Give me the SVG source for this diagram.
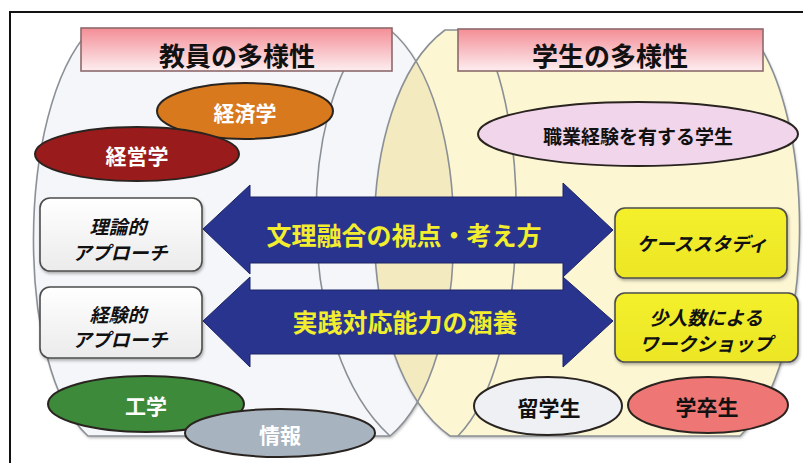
<svg xmlns="http://www.w3.org/2000/svg" width="803" height="463" viewBox="0 0 803 463">
<defs>
<style>
text{font-family:"Noto Sans CJK JP","Noto Sans",sans-serif;font-weight:bold;text-anchor:middle;dominant-baseline:central}
.arc{fill:none;stroke:#8b9096;stroke-width:1.6}
.ban{stroke:#8d6a6c;stroke-width:1.6}
.ban-t{font-size:26px;fill:#111}
.ell{stroke:#2a2420;stroke-width:2}
.ell-w{font-size:21px;fill:#fff}
.ell-b{font-size:21px;fill:#111}
.box{stroke:#4d4d4d;stroke-width:1.6}
.box-t{font-size:19px;fill:#111;font-style:italic}
.arrow{fill:#29348e;stroke:#1c2466;stroke-width:1}
.arrow-t{font-size:25px;fill:#f2ee2e}
</style>
<linearGradient id="gBan" x1="0" y1="0" x2="0" y2="1">
<stop offset="0" stop-color="#f48d95"/>
<stop offset="0.55" stop-color="#f8c3c8"/>
<stop offset="1" stop-color="#fdeef0"/>
</linearGradient>
<linearGradient id="gBox" x1="0" y1="0" x2="0" y2="1">
<stop offset="0" stop-color="#ffffff"/>
<stop offset="1" stop-color="#ebebeb"/>
</linearGradient>
<linearGradient id="gYel" x1="0" y1="0" x2="0" y2="1">
<stop offset="0" stop-color="#f4f02c"/>
<stop offset="1" stop-color="#ece626"/>
</linearGradient>
<filter id="sh" x="-10%" y="-10%" width="130%" height="140%">
<feDropShadow dx="1" dy="2" stdDeviation="1.5" flood-color="#000" flood-opacity="0.3"/>
</filter>
<clipPath id="clipL">
<path d="M90,30 L390,30 C475,100 475,365 390,436 L88,436 C15,370 15,110 90,30 Z"/>
</clipPath>
</defs>
<rect width="803" height="463" fill="#ffffff"/>
<rect x="10" y="12" width="800" height="470" fill="none" stroke="#111" stroke-width="2"/>

<g id="cylinders">
<path d="M90,30 L390,30 C475,100 475,365 390,436 L88,436 C15,370 15,110 90,30 Z" fill="#f4f6f9" filter="url(#sh)"/>
<path d="M445,30 L748,30 C818,110 818,360 740,436 L450,436 C350,365 350,100 445,30 Z" fill="#fcf6d3" filter="url(#sh)"/>
<path d="M445,30 L748,30 C818,110 818,360 740,436 L450,436 C350,365 350,100 445,30 Z" fill="#f3eabf" clip-path="url(#clipL)"/>
<path class="arc" d="M90,30 L390,30 C475,100 475,365 390,436 L88,436 C15,370 15,110 90,30 Z"/>
<path class="arc" d="M370,30 C295,110 295,350 390,436"/>
<path class="arc" d="M445,30 L748,30 C818,110 818,360 740,436 L450,436 C350,365 350,100 445,30 Z"/>
<path class="arc" d="M478,30 C532,110 532,360 458,436"/>
</g>

<g id="banner-faculty">
<rect class="ban" x="81" y="28" width="311" height="43" fill="url(#gBan)"/>
<text class="ban-t" x="237" y="54">教員の多様性</text>
</g>
<g id="banner-students">
<rect class="ban" x="458" y="29" width="305" height="42" fill="url(#gBan)"/>
<text class="ban-t" x="610" y="54">学生の多様性</text>
</g>

<g id="node-keizai">
<ellipse class="ell" cx="245" cy="111" rx="88" ry="28" fill="#d8791e"/>
<text class="ell-w" x="245" y="112">経済学</text>
</g>
<g id="node-keiei">
<ellipse class="ell" cx="137" cy="154" rx="102" ry="27" fill="#9a1b1c"/>
<text class="ell-w" x="137" y="155">経営学</text>
</g>
<g id="node-shokugyo">
<ellipse class="ell" cx="638" cy="134" rx="160" ry="32" fill="#f1d5ea"/>
<text class="ell-b" x="638" y="135" style="font-size:19px">職業経験を有する学生</text>
</g>

<g id="node-riron">
<rect class="box" x="40" y="198" width="162" height="73" rx="10" fill="url(#gBox)" filter="url(#sh)"/>
<text class="box-t" x="118" y="225">理論的</text>
<text class="box-t" x="120" y="251">アプローチ</text>
</g>
<g id="node-keiken">
<rect class="box" x="40" y="287" width="162" height="71" rx="10" fill="url(#gBox)" filter="url(#sh)"/>
<text class="box-t" x="118" y="313">経験的</text>
<text class="box-t" x="120" y="338">アプローチ</text>
</g>

<g id="node-case">
<rect class="box" x="615" y="208" width="172" height="70" rx="10" fill="url(#gYel)" stroke="#55551c" filter="url(#sh)"/>
<text class="box-t" x="702" y="242">ケーススタディ</text>
</g>
<g id="node-workshop">
<rect class="box" x="615" y="293" width="183" height="69" rx="10" fill="url(#gYel)" stroke="#55551c" filter="url(#sh)"/>
<text class="box-t" x="706" y="316">少人数による</text>
<text class="box-t" x="706" y="342">ワークショップ</text>
</g>

<g id="connectors">
<path class="arrow" d="M203,229 L250,185 L250,197 L563,197 L563,183 L613,230 L563,277 L563,263 L250,263 L250,274 Z"/>
<text class="arrow-t" x="404" y="234">文理融合の視点・考え方</text>
<path class="arrow" d="M203,321 L250,277 L250,290 L563,290 L563,277 L613,321 L563,367 L563,354 L250,354 L250,367 Z"/>
<text class="arrow-t" x="405" y="321">実践対応能力の涵養</text>
</g>

<g id="node-kougaku">
<ellipse class="ell" cx="146" cy="404" rx="98" ry="28" fill="#3c8a3a"/>
<text class="ell-w" x="146" y="405">工学</text>
</g>
<g id="node-jouhou">
<ellipse class="ell" cx="280" cy="433" rx="95" ry="24" fill="#a7b3bf"/>
<text class="ell-w" x="280" y="434">情報</text>
</g>
<g id="node-ryugaku">
<ellipse class="ell" cx="548" cy="406" rx="74" ry="29" fill="#eef0f4"/>
<text class="ell-b" x="549" y="407">留学生</text>
</g>
<g id="node-gakusotsu">
<ellipse class="ell" cx="708" cy="405" rx="80" ry="28" fill="#ee7674"/>
<text class="ell-b" x="707" y="406">学卒生</text>
</g>
</svg>
